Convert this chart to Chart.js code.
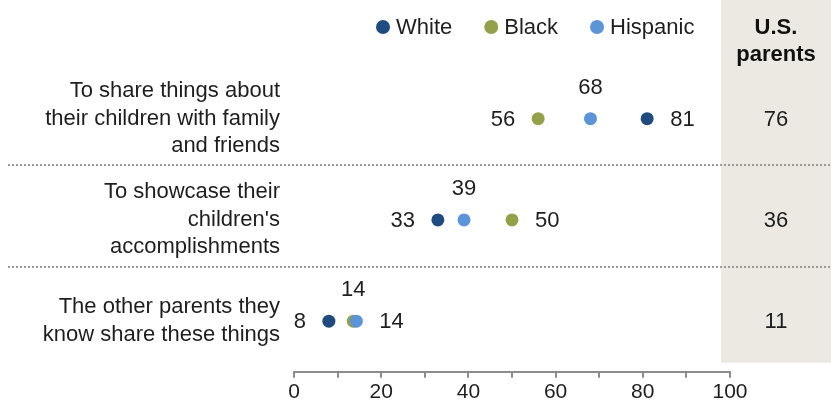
<!DOCTYPE html>
<html lang="en">
    <head>
        <meta charset="utf-8"/>
        <script src="https://cdn.jsdelivr.net/npm/chart.js"></script>
        <title> Why parents post about their children </title>
        <style>
            body {
                margin: 0;
                background: #ffffff;
            }
            .wrap {
                width: 831px;
                height: 411px;
            }
        </style>
    </head>
    <body>
        <div class="wrap">
            <canvas id="dotChart"></canvas>
        </div>

        <script>
            // Categories (y axis), one array per multi-line label
            const categories = [
                ['To share things about', 'their children with family', 'and friends'],
                ["To showcase their", "children's", 'accomplishments'],
                ['The other parents they', 'know share these things']
            ];

            // Series values (%)
            const white = [81, 33, 8];
            const black = [56, 50, 13.6];
            const hispanic = [68, 39, 14.3];
            const usParents = [76, 36, 11];

            // x axis tick labels
            const xTickLabels = [0, 20, 40, 60, 80, 100];

            const FONT = "'Liberation Sans', Arial, sans-serif";
            const TEXT = '#1e1e1e';

            const toPoints = arr => arr.map((v, i) => ({ x: v, y: i }));

            // shaded column, separators, legend, labels
            const decorPlugin = {
                id: 'decor',
                beforeDraw(chart) {
                    const { ctx, chartArea } = chart;
                    const xs = chart.scales.x;
                    const colLeft = xs.getPixelForValue(100) - 9;
                    ctx.save();
                    ctx.fillStyle = '#ece9e2';
                    ctx.fillRect(colLeft, 0, chart.width - colLeft, chartArea.bottom - 9);
                    ctx.restore();
                },
                beforeDatasetsDraw(chart) {
                    const { ctx } = chart;
                    const ys = chart.scales.y;
                    ctx.save();
                    ctx.strokeStyle = '#999999';
                    ctx.lineWidth = 2;
                    ctx.setLineDash([2, 2]);
                    for (let i = 0; i < categories.length - 1; i++) {
                        const y = Math.round((ys.getPixelForValue(i) + ys.getPixelForValue(i + 1)) / 2) - 4;
                        ctx.beginPath();
                        ctx.moveTo(8, y);
                        ctx.lineTo(chart.width, y);
                        ctx.stroke();
                    }
                    ctx.restore();
                },
                afterDatasetsDraw(chart) {
                    const { ctx, chartArea } = chart;
                    const xs = chart.scales.x;
                    const ys = chart.scales.y;
                    ctx.save();
                    ctx.font = '22px ' + FONT;
                    ctx.fillStyle = TEXT;
                    ctx.textBaseline = 'middle';

                    // value labels: lowest left, middle above, highest right
                    categories.forEach((c, i) => {
                        const items = chart.data.datasets.map((ds, d) => ({ d, v: ds.data[i].x }));
                        items.sort((a, b) => a.v - b.v);
                        items.forEach((it, k) => {
                            const pt = chart.getDatasetMeta(it.d).data[i];
                            const txt = Math.round(it.v);
                            if (k === 0) {
                                ctx.textAlign = 'right';
                                ctx.fillText(txt, pt.x - 23, pt.y + 1);
                            } else if (k === 1) {
                                ctx.textAlign = 'center';
                                ctx.fillText(txt, pt.x, pt.y - 31);
                            } else {
                                ctx.textAlign = 'left';
                                ctx.fillText(txt, pt.x + 23, pt.y + 1);
                            }
                        });
                    });

                    // U.S. parents column
                    const colLeft = xs.getPixelForValue(100) - 9;
                    const colMid = (colLeft + chart.width) / 2;
                    ctx.textAlign = 'center';
                    usParents.forEach((v, i) => {
                        ctx.fillText(v, colMid, ys.getPixelForValue(i) + 1);
                    });
                    ctx.font = 'bold 22px ' + FONT;
                    ctx.fillStyle = '#111111';
                    ctx.fillText('U.S.', colMid, 28);
                    ctx.fillText('parents', colMid, 55);

                    // legend
                    ctx.font = '22px ' + FONT;
                    ctx.textAlign = 'left';
                    let lx = chartArea.left + 89;
                    chart.data.datasets.forEach(ds => {
                        ctx.fillStyle = ds.backgroundColor;
                        ctx.beginPath();
                        ctx.arc(lx, 27, 7, 0, Math.PI * 2);
                        ctx.fill();
                        ctx.fillStyle = TEXT;
                        ctx.fillText(ds.label, lx + 13, 28);
                        lx += 13 + ctx.measureText(ds.label).width + 39;
                    });
                    ctx.restore();
                }
            };

            const ctx = document.getElementById('dotChart').getContext('2d');

            const dotChart = new Chart(ctx, {
                type: 'scatter',
                data: {
                    datasets: [
                        {
                            label: 'White',
                            data: toPoints(white),
                            backgroundColor: '#1f4b80',
                            pointRadius: 6.5,
                            pointBorderWidth: 0,
                            order: 0
                        },
                        {
                            label: 'Black',
                            data: toPoints(black),
                            backgroundColor: '#95a04a',
                            pointRadius: 6.5,
                            pointBorderWidth: 0,
                            order: 2
                        },
                        {
                            label: 'Hispanic',
                            data: toPoints(hispanic),
                            backgroundColor: '#5b94d7',
                            pointRadius: 6.5,
                            pointBorderWidth: 0,
                            order: 1
                        }
                    ]
                },
                options: {
                    responsive: true,
                    maintainAspectRatio: false,
                    animation: false,
                    events: [],
                    layout: {
                        padding: { left: 0, right: 101, top: 68, bottom: 4 }
                    },
                    plugins: {
                        legend: { display: false },
                        tooltip: { enabled: false }
                    },
                    scales: {
                        x: {
                            type: 'linear',
                            min: 0,
                            max: 100,
                            grid: {
                                drawOnChartArea: false,
                                drawTicks: true,
                                tickLength: 6,
                                color: '#8c8c8c',
                                lineWidth: 2
                            },
                            border: { display: true, color: '#8c8c8c', width: 2 },
                            ticks: {
                                stepSize: 10,
                                autoSkip: false,
                                maxRotation: 0,
                                padding: 2,
                                color: TEXT,
                                font: { family: FONT, size: 21 },
                                callback: v => xTickLabels.includes(v) ? v : ''
                            }
                        },
                        y: {
                            type: 'category',
                            labels: categories,
                            offset: true,
                            grid: { display: false, drawTicks: false },
                            border: { display: false },
                            ticks: {
                                padding: 14,
                                color: TEXT,
                                font: { family: FONT, size: 22, lineHeight: 1.25 }
                            },
                            afterFit: scale => {
                                scale.width = 294;
                                scale.paddingTop = 0;
                                scale.paddingBottom = 0;
                            }
                        }
                    }
                },
                plugins: [decorPlugin]
            });
        </script>
    </body>
</html>
